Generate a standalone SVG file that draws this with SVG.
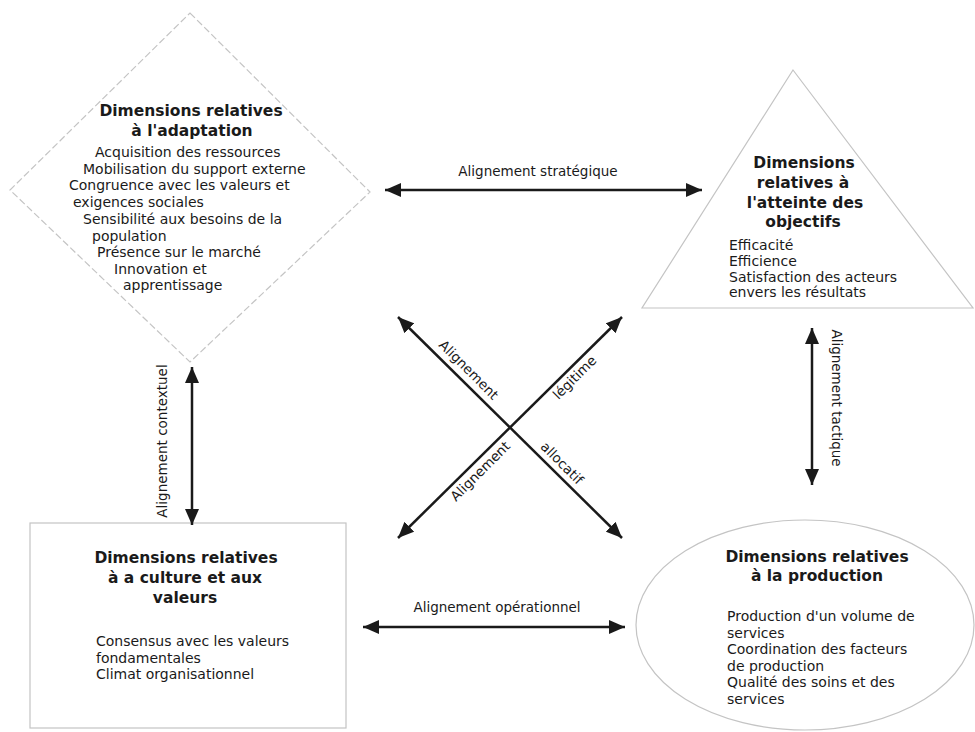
<svg xmlns="http://www.w3.org/2000/svg" width="975" height="732" viewBox="0 0 975 732">
  <defs>
    <marker id="head" viewBox="0 0 16 14" refX="16" refY="7" markerWidth="16" markerHeight="14" markerUnits="userSpaceOnUse" orient="auto-start-reverse">
      <path d="M0,0 L16,7 L0,14 z" fill="#1a1a1a"/>
    </marker>
    <style>
      .shape { fill: none; stroke: #c4c4c4; stroke-width: 1.2; }
      .dashed { stroke-dasharray: 7 3; }
      .head { font-family: "DejaVu Sans", "Liberation Sans", sans-serif; font-weight: bold; font-size: 15.5px; fill: #1a1a1a; text-anchor: middle; }
      .body { font-family: "DejaVu Sans", "Liberation Sans", sans-serif; font-size: 14px; fill: #1a1a1a; }
      .link { stroke: #1a1a1a; stroke-width: 2.5; fill: none; marker-start: url(#head); marker-end: url(#head); }
      .lbl { font-family: "DejaVu Sans", "Liberation Sans", sans-serif; font-size: 13.5px; fill: #1a1a1a; text-anchor: middle; }
    </style>
  </defs>
  <rect width="975" height="732" fill="#ffffff"/>

  <!-- adaptation: diamond -->
  <g id="adaptation">
    <polygon class="shape dashed" points="190,13 370,192 190,362 10,190"/>
    <text class="head" x="191" y="116">Dimensions relatives</text>
    <text class="head" x="192" y="136">à l'adaptation</text>
    <text class="body" x="95" y="157">Acquisition des ressources</text>
    <text class="body" x="83" y="173.5">Mobilisation du support externe</text>
    <text class="body" x="69" y="190">Congruence avec les valeurs et</text>
    <text class="body" x="73" y="207">exigences sociales</text>
    <text class="body" x="83" y="224">Sensibilité aux besoins de la</text>
    <text class="body" x="92" y="241">population</text>
    <text class="body" x="97" y="257">Présence sur le marché</text>
    <text class="body" x="114" y="274">Innovation et</text>
    <text class="body" x="123" y="290">apprentissage</text>
  </g>

  <!-- objectives: triangle -->
  <g id="objectifs">
    <polygon class="shape" points="793,70 973,308 642,308"/>
    <text class="head" x="804" y="168">Dimensions</text>
    <text class="head" x="803" y="188">relatives à</text>
    <text class="head" x="805" y="208">l'atteinte des</text>
    <text class="head" x="803" y="227">objectifs</text>
    <text class="body" x="729" y="250">Efficacité</text>
    <text class="body" x="729" y="266">Efficience</text>
    <text class="body" x="729" y="282">Satisfaction des acteurs</text>
    <text class="body" x="729" y="297">envers les résultats</text>
  </g>

  <!-- culture and values: rectangle -->
  <g id="culture">
    <rect class="shape" x="30" y="523" width="316" height="205"/>
    <text class="head" x="186" y="563">Dimensions relatives</text>
    <text class="head" x="185" y="583">à a culture et aux</text>
    <text class="head" x="185" y="603">valeurs</text>
    <text class="body" x="96" y="646">Consensus avec les valeurs</text>
    <text class="body" x="96" y="662.5">fondamentales</text>
    <text class="body" x="96" y="679">Climat organisationnel</text>
  </g>

  <!-- production: ellipse -->
  <g id="production">
    <ellipse class="shape" cx="805" cy="625" rx="169" ry="105"/>
    <text class="head" x="817" y="562">Dimensions relatives</text>
    <text class="head" x="817" y="581">à la production</text>
    <text class="body" x="727" y="621">Production d'un volume de</text>
    <text class="body" x="727" y="637.5">services</text>
    <text class="body" x="727" y="654">Coordination des facteurs</text>
    <text class="body" x="727" y="670.5">de production</text>
    <text class="body" x="727" y="687">Qualité des soins et des</text>
    <text class="body" x="727" y="703.5">services</text>
  </g>

  <!-- alignment connectors -->
  <g id="connectors">
    <line class="link" x1="385" y1="190" x2="702" y2="190"/>
    <text class="lbl" x="538" y="176">Alignement stratégique</text>

    <line class="link" x1="192" y1="367" x2="192" y2="525"/>
    <text class="lbl" transform="translate(167,441) rotate(-90)">Alignement contextuel</text>

    <line class="link" x1="812" y1="328" x2="812" y2="485"/>
    <text class="lbl" transform="translate(832,398) rotate(90)">Alignement tactique</text>

    <line class="link" x1="363" y1="627" x2="625" y2="627"/>
    <text class="lbl" x="497" y="612">Alignement opérationnel</text>

    <line class="link" x1="398" y1="317" x2="622" y2="538"/>
    <line class="link" x1="622" y1="317" x2="398" y2="538"/>
    <g transform="translate(510,427.5) rotate(45)">
      <text class="lbl" x="-70" y="-7">Alignement</text>
      <text class="lbl" x="62" y="-7">allocatif</text>
    </g>
    <g transform="translate(510,427.5) rotate(-45)">
      <text class="lbl" x="81" y="15">légitime</text>
      <text class="lbl" x="-52" y="14.5">Alignement</text>
    </g>
  </g>
</svg>
